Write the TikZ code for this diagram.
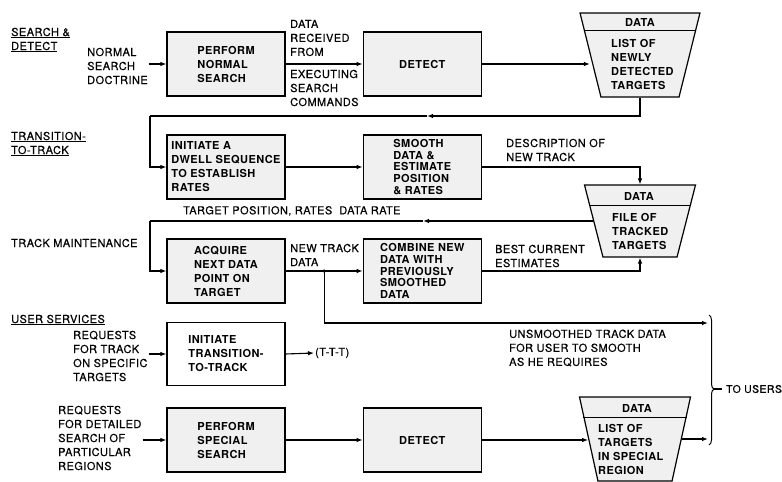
\documentclass[tikz,border=0pt]{standalone}
\usepackage{fontspec}
\setmainfont[LetterSpace=4]{TeX Gyre Heros}
\newfontfamily\lblfont[LetterSpace=4, FakeBold=0.4]{TeX Gyre Heros}
\usepackage{tikz}
\usetikzlibrary{shapes.geometric, arrows.meta, positioning, calc, decorations.pathreplacing}
\tikzset{
  box/.style={draw, line width=1.3pt, fill=gray!12, minimum width=118pt,
              minimum height=64pt, inner sep=2pt, align=left,
              font=\bfseries\fontsize{11}{14}\selectfont},
  tightbox/.style={box, font=\bfseries\fontsize{11}{11.8}\selectfont},
  store/.style={trapezium, shape border rotate=180, trapezium stretches=true,
                draw, line width=1.2pt, fill=gray!12, minimum height=84pt,
                minimum width=120pt, trapezium angle=75},
  boxtxt/.style={inner sep=0pt, align=left, font=\bfseries\fontsize{11}{14}\selectfont},
  lbl/.style={inner sep=1pt, align=left, font=\lblfont\fontsize{11}{14}\selectfont},
  arrow/.style={-{Latex[length=6pt,width=4.5pt]}, line width=1.1pt},
  flow/.style={line width=1.1pt}
}
\newcommand\storeline[2]{%
  \draw[line width=1.1pt] ($(#1.bottom left corner)!#2!(#1.top left corner)$)
    -- ($(#1.bottom right corner)!#2!(#1.top right corner)$);}

\begin{document}
\begin{tikzpicture}[x=1pt, y=-1pt]
  \useasboundingbox (0,0) rectangle (782,482);

  % search & detect
  \node[lbl, anchor=west] (hsd) at (10,40) {\underline{SEARCH \&}\\\underline{DETECT}};
  \node[lbl, anchor=west] (doct) at (86,66) {NORMAL\\SEARCH\\DOCTRINE};
  \node[box] (srch) at (226,64) {PERFORM\\NORMAL\\SEARCH};
  \node[box, right=77pt of srch] (det1) {DETECT};
  \node[lbl, anchor=west] (rcvd) at (289,38) {DATA\\RECEIVED\\FROM};
  \node[lbl, anchor=west] (exec) at (289,88) {EXECUTING\\SEARCH\\COMMANDS};
  \node[store] (lst1) at (640,55) {};
  \storeline{lst1}{0.214}
  \node[boxtxt] (lst1h) at (640,22) {DATA};
  \node[boxtxt, anchor=west] (lst1t) at (611,64) {LIST OF\\NEWLY\\DETECTED\\TARGETS};

  % transition-to-track
  \node[lbl, anchor=west] (htt) at (10,144) {\underline{TRANSITION-}\\\underline{TO-TRACK}};
  \node[box] (dwell) at (226,167) {INITIATE A\\DWELL SEQUENCE\\TO ESTABLISH\\RATES};
  \node[tightbox, right=77pt of dwell] (smooth) {SMOOTH\\DATA \&\\ESTIMATE\\POSITION\\\& RATES};
  \node[lbl, anchor=west] (desc) at (505,150) {DESCRIPTION OF\\NEW TRACK};
  \node[store, minimum width=111pt, minimum height=72pt, trapezium angle=76] (trk) at (640,221) {};
  \storeline{trk}{0.29}
  \node[boxtxt] (trkh) at (639,196) {DATA};
  \node[boxtxt, anchor=west] (trkt) at (612,231) {FILE OF\\TRACKED\\TARGETS};
  \node[lbl, anchor=west] (tpos) at (182,211) {TARGET POSITION, RATES\hspace{7pt}DATA RATE};

  % track maintenance
  \node[lbl, anchor=west] (htm) at (10,243) {TRACK MAINTENANCE};
  \node[box] (acq) at (226,271) {ACQUIRE\\NEXT DATA\\POINT ON\\TARGET};
  \node[tightbox, right=77pt of acq] (comb) {COMBINE NEW\\DATA WITH\\PREVIOUSLY\\SMOOTHED\\DATA};
  \node[lbl, anchor=west] (newt) at (289,255) {NEW TRACK\\DATA};
  \node[lbl, anchor=west] (best) at (494,256) {BEST CURRENT\\ESTIMATES};

  % user services
  \node[lbl, anchor=west] (hus) at (10,320) {\underline{USER SERVICES}};
  \node[lbl, anchor=west] (reqt) at (72,356) {REQUESTS\\FOR TRACK\\ON SPECIFIC\\TARGETS};
  \node[box, fill=white, minimum height=63pt] (ttt) at (226,354) {INITIATE\\TRANSITION-\\TO-TRACK};
  \node[lbl, anchor=west] (tttl) at (314,353) {(T-T-T)};
  \node[lbl, anchor=west] (unsm) at (508,348) {UNSMOOTHED TRACK DATA\\FOR USER TO SMOOTH\\AS HE REQUIRES};
  \node[lbl, anchor=west] (reqd) at (57,438) {REQUESTS\\FOR DETAILED\\SEARCH OF\\PARTICULAR\\REGIONS};
  \node[box] (spec) at (226,440) {PERFORM\\SPECIAL\\SEARCH};
  \node[box, right=77pt of spec] (det2) {DETECT};
  \node[store, minimum width=111pt, trapezium angle=76] (lst2) at (635,439) {};
  \storeline{lst2}{0.25}
  \node[boxtxt] (lst2h) at (637,408) {DATA};
  \node[boxtxt, anchor=west] (lst2t) at (598,449) {LIST OF\\TARGETS\\IN SPECIAL\\REGION};
  \node[lbl, anchor=west, font=\lblfont\fontsize{10.5}{14}\selectfont] (users) at (725,389) {TO USERS};

  \coordinate (mid1) at (427,116);
  \coordinate (rail1) at (150,116);
  \coordinate (mid2) at (423,221);
  \coordinate (rail2) at (150,221);
  \coordinate (split) at ($(acq.east)!0.5!(comb.west)$);
  \coordinate (usr) at (708,323);
  \coordinate (btop) at (709,315);
  \coordinate (bbot) at (709,445);
  \coordinate (tip) at (714,389);

  \draw[arrow] (srch.west -| doct.east) -- (srch.west);
  \draw[arrow] (srch) -- (det1);
  \draw[arrow] (det1.east) -- (det1.east -| lst1.west);
  \draw[arrow] (lst1.south) |- (mid1);
  \draw[flow] (mid1) -- (rail1);
  \draw[arrow] (rail1) |- (dwell.west);
  \draw[arrow] (dwell) -- (smooth);
  \draw[arrow] (smooth.east) -| (trk.north);
  \draw[arrow] (trk.west) -- (mid2);
  \draw[flow] (mid2) -- (rail2);
  \draw[arrow] (rail2) |- (acq.west);
  \draw[arrow] (acq) -- (comb);
  \fill (split) circle (1.8pt);
  \draw[arrow] (split) |- (usr);
  \draw[arrow] (comb.east) -| (trk.south);
  \draw[arrow] (ttt.west -| reqt.east) -- (ttt.west);
  \draw[arrow] (ttt.east) -- (tttl.west);
  \draw[arrow] (spec.west -| reqd.east) -- (spec.west);
  \draw[arrow] (spec) -- (det2);
  \draw[arrow] (det2.east) -- (det2.east -| lst2.west);
  \draw[arrow] (lst2.east) -- (lst2.east -| usr);
  \draw[line width=1pt, decorate, decoration={brace, amplitude=5pt, aspect=0.57}] (btop) -- (bbot);
  \draw[flow, shorten >=3pt] (tip) -- (users.west);
\end{tikzpicture}
\end{document}
